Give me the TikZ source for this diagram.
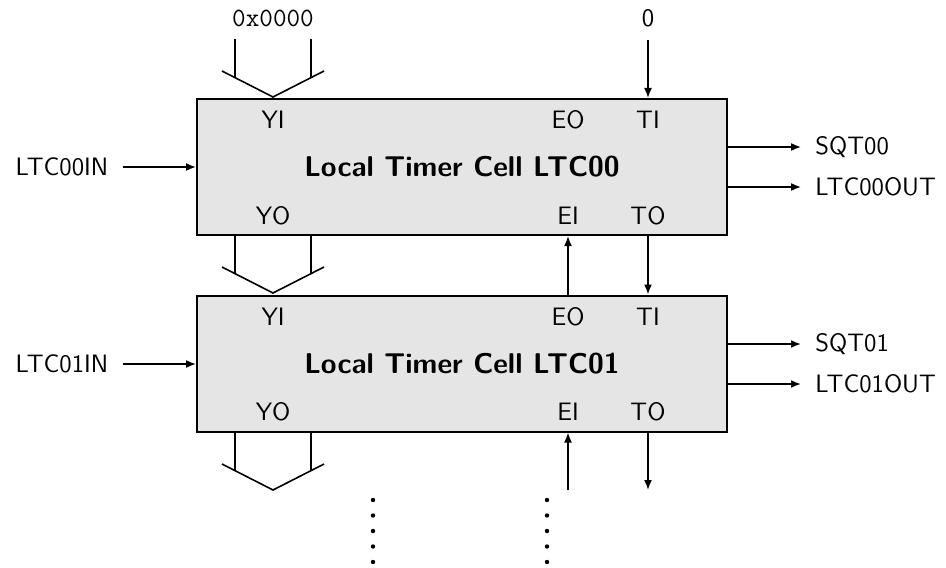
\documentclass[tikz,border=0pt]{standalone}
\usetikzlibrary{arrows.meta,calc}
\begin{document}
\begin{tikzpicture}[x=0.5pt,y=-0.5pt,
  font=\sffamily\fontsize{12.6}{15}\selectfont,
  cell/.style={draw, line width=1pt, fill=black!10, minimum width=265pt, minimum height=68pt, inner sep=0pt},
  title/.style={font=\sffamily\bfseries\fontsize{14.3}{17}\selectfont, inner sep=0pt},
  port/.style={inner sep=0pt},
  lbl/.style={inner sep=0pt},
  sig/.style={line width=0.8pt, -{Latex[length=5pt,width=4pt]}},
  bus/.style={line width=0.8pt},
  dotmark/.style={fill=black}]
\useasboundingbox (0,0) rectangle (946,567);

% ---------- cells ----------
\node[cell] (c0) at (462,167) {};
\node[title] (t0) at (462,167) {Local Timer Cell LTC00};
\node[cell] (c1) at (462,363.5) {};
\node[title] (t1) at (462,363.5) {Local Timer Cell LTC01};

% ---------- port labels ----------
\node[port] (yi0) at (273,120) {YI};
\node[port] (eo0) at (568,120) {EO};
\node[port] (ti0) at (648,120) {TI};
\node[port] (yo0) at (273,215.5) {YO};
\node[port] (ei0) at (568,215.5) {EI};
\node[port] (to0) at (648,215.5) {TO};
\node[port] (yi1) at (273,317) {YI};
\node[port] (eo1) at (568,317) {EO};
\node[port] (ti1) at (648,317) {TI};
\node[port] (yo1) at (273,412) {YO};
\node[port] (ei1) at (568,412) {EI};
\node[port] (to1) at (648,412) {TO};

% ---------- external labels ----------
\node[lbl, font=\ttfamily\fontsize{13.2}{15}\selectfont] (yin) at (273,18) {0x0000};
\node[lbl] (tin) at (648,18) {0};
\node[lbl, anchor=east] (in0) at (108.5,167) {LTC00IN};
\node[lbl, anchor=east] (in1) at (108.5,364) {LTC01IN};
\node[lbl, anchor=west] (sq0) at (815,147) {SQT00};
\node[lbl, anchor=west] (out0) at (815,187) {LTC00OUT};
\node[lbl, anchor=west] (sq1) at (815,344) {SQT01};
\node[lbl, anchor=west] (out1) at (815,384) {LTC01OUT};

% ---------- coordinates ----------
\coordinate (tiTop) at (648,40);
\coordinate (eiBot) at (568,490);
\coordinate (toBot) at (648,490);

% ---------- signal arrows ----------
\draw[sig] (tiTop) -- (c0.north -| tiTop);
\draw[sig] (c1.north -| eiBot) -- (c0.south -| eiBot);
\draw[sig] (c0.south -| toBot) -- (c1.north -| toBot);
\draw[sig] (eiBot) -- (c1.south -| eiBot);
\draw[sig] (c1.south -| toBot) -- (toBot);
\draw[sig] ($(in0.east)+(14,0)$) -- (c0.west |- in0.east);
\draw[sig] ($(in1.east)+(14,0)$) -- (c1.west |- in1.east);
\draw[sig] (c0.east |- sq0.west) -- ($(sq0.west)+(-14,0)$);
\draw[sig] (c0.east |- out0.west) -- ($(out0.west)+(-14,0)$);
\draw[sig] (c1.east |- sq1.west) -- ($(sq1.west)+(-14,0)$);
\draw[sig] (c1.east |- out1.west) -- ($(out1.west)+(-14,0)$);

% ---------- buses ----------
% top bus into c0
\draw[bus] (235,39) -- (235,78);
\draw[bus] (311,39) -- (311,78);
\draw[bus] (222,71) -- (273,97) -- (324,71);
% bus between c0 and c1
\draw[bus] (c0.south -| 235,0) -- (235,273);
\draw[bus] (c0.south -| 311,0) -- (311,273);
\draw[bus] (222,267) -- (273,293) -- (324,267);
% bus out of c1
\draw[bus] (c1.south -| 235,0) -- (235,470);
\draw[bus] (c1.south -| 311,0) -- (311,470);
\draw[bus] (222,464) -- (273,490) -- (324,464);

% ---------- continuation dots ----------
\foreach \i in {0,...,4} {
  \fill[dotmark] (373,500+15.5*\i) circle (1.1pt);
  \fill[dotmark] (547,500+15.5*\i) circle (1.1pt);
}
\end{tikzpicture}
\end{document}
